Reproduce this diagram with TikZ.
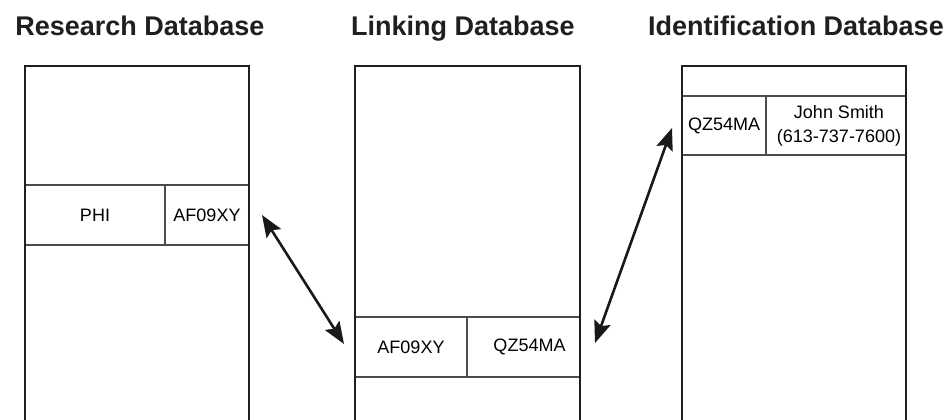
\documentclass[tikz,border=0pt]{standalone}
\usepackage{fontspec}
\setmainfont{Liberation Sans}
\usetikzlibrary{arrows.meta}
\tikzset{
  frame/.style={draw=black!88, line width=2.8pt},
  cell/.style={draw=black!70, line width=1.2pt, inner sep=0pt, minimum height=60pt,
    font=\fontsize{18}{25}\selectfont, align=center},
  dbtitle/.style={anchor=base, font=\fontsize{27}{30}\selectfont\bfseries, text=black!88},
  link/.style={draw=black!90, line width=2.6pt,
    {Stealth[length=22pt,width=17pt,inset=4pt]}-{Stealth[length=22pt,width=17pt,inset=4pt]}}
}
\begin{document}
\begin{tikzpicture}[x=1pt,y=-1pt]
  \clip (0,0) rectangle (950,420);
  \fill[white] (0,0) rectangle (950,420);
  % research database
  \begin{scope}
    \node[dbtitle] (restitle) at (140,36) {Research Database};
    \node[cell, minimum width=140pt] (phi) at (95,215) {PHI};
    \node[cell, minimum width=84pt] (resid) at (207,215) {AF09XY};
    \draw[frame] (25,430) -- (25,66) -- (249,66) -- (249,430);
  \end{scope}
  % linking database
  \begin{scope}
    \node[dbtitle] (lnktitle) at (463,36) {Linking Database};
    \node[cell, minimum width=112pt] (lnkres) at (411,347) {AF09XY};
    \node[cell, minimum width=113pt] (lnkid) at (523.5,347) {\hspace*{12pt}QZ54MA};
    \draw[frame] (355,430) -- (355,66) -- (580,66) -- (580,430);
  \end{scope}
  % identification database
  \begin{scope}
    \node[dbtitle] (idtitle) at (796,36) {Identification Database};
    \node[cell, minimum width=84pt, minimum height=59pt] (idkey) at (724,125.5) {QZ54MA};
    \node[cell, minimum width=140pt, minimum height=59pt] (person) at (836,125.5)
      {\raisebox{-3pt}{\hspace*{6pt}John Smith}\\\raisebox{-2pt}{\hspace*{6pt}(613-737-7600)}};
    \draw[frame] (682,430) -- (682,66) -- (906,66) -- (906,430);
  \end{scope}
  \coordinate (r1) at (262,215);
  \coordinate (l1) at (344,344);
  \coordinate (l2) at (595,343);
  \coordinate (i1) at (672,128);
  \draw[link] (r1) -- (l1);
  \draw[link] (l2) -- (i1);
\end{tikzpicture}
\end{document}
